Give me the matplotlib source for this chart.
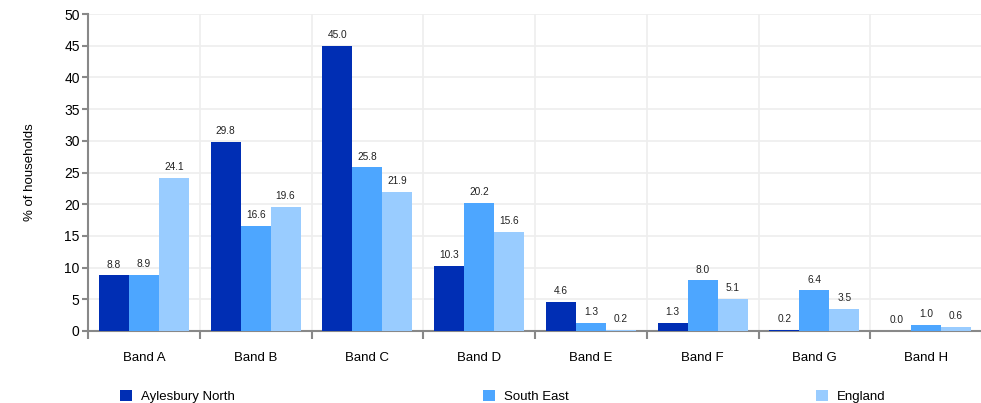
import numpy as np
import matplotlib
matplotlib.use('Agg')
import matplotlib.pyplot as plt

bands = ['Band A', 'Band B', 'Band C', 'Band D', 'Band E', 'Band F', 'Band G', 'Band H']
aylesbury = [8.8, 29.8, 45.0, 10.3, 4.6, 1.3, 0.2, 0.0]
south_east = [8.9, 16.6, 25.8, 20.2, 1.3, 8.0, 6.4, 1.0]
england = [24.1, 19.6, 21.9, 15.6, 0.2, 5.1, 3.5, 0.6]

series = [('Aylesbury North', aylesbury, '#002eb4'),
          ('South East', south_east, '#4da6ff'),
          ('England', england, '#99ccff')]

plt.rcParams['font.family'] = ['Arial', 'Liberation Sans', 'DejaVu Sans']

fig = plt.figure(figsize=(9.81, 4.03), dpi=100)
ax = fig.add_axes([88/981, 1 - 331/403, 894/981, 317/403])

x = np.arange(len(bands))
w = 0.268
for i, (name, vals, col) in enumerate(series):
    pos = x + (i - 1) * w
    ax.bar(pos, vals, w, color=col, label=name, zorder=3)
    for xx, v in zip(pos, vals):
        ax.text(xx, v + 0.9, '%.1f' % v, ha='center', va='bottom', fontsize=7.3, color='#222222')

ax.set_xlim(-0.5, len(bands) - 0.5)
ax.set_ylim(0, 50)
ax.set_yticks(range(0, 51, 5))
ax.tick_params(axis='y', labelsize=10, length=4, color='#888888', width=1.5, pad=2)

ax.set_xticks(x)
ax.set_xticklabels(bands, fontsize=9.5)
ax.tick_params(axis='x', length=0, pad=15)
ax.set_xticks(np.arange(-0.5, len(bands)), minor=True)
ax.tick_params(axis='x', which='minor', length=6, color='#888888', width=1.5)

ax.grid(True, which='major', axis='y', color='#eeeeee', linewidth=1.2, zorder=0)
ax.grid(True, which='minor', axis='x', color='#eeeeee', linewidth=1.2, zorder=0)

for s in ['top', 'right']:
    ax.spines[s].set_visible(False)
for s in ['left', 'bottom']:
    ax.spines[s].set_color('#888888')
    ax.spines[s].set_linewidth(1.5)

ax.set_ylabel('% of households', fontsize=9.5, labelpad=20)

ax.legend(loc='upper left', bbox_to_anchor=(27/894, -0.17), ncol=3,
          frameon=False, fontsize=9.5, handlelength=0.9, handleheight=0.9,
          handletextpad=0.7, columnspacing=18.75, borderaxespad=0)

fig.savefig('out.png', dpi=100)
